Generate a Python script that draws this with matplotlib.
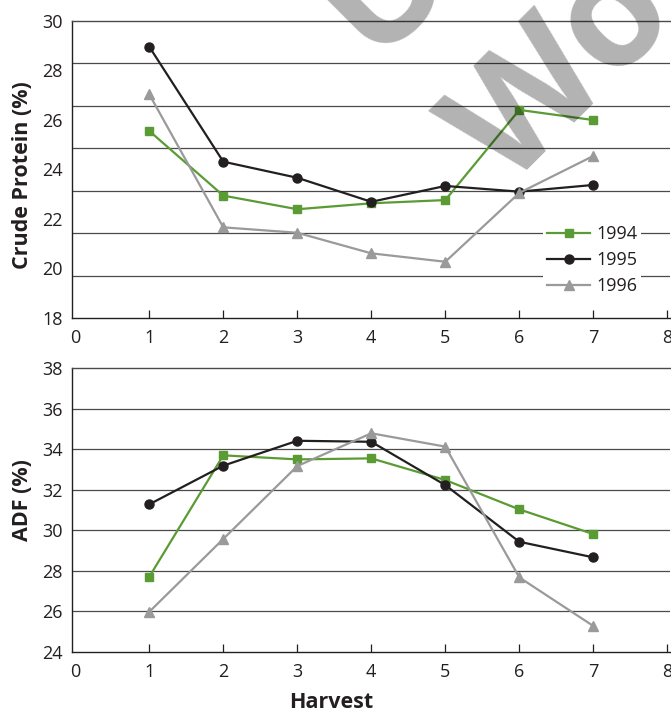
import matplotlib
matplotlib.use('Agg')
import matplotlib.pyplot as plt
import numpy as np

plt.rcParams['font.family'] = ['Open Sans', 'DejaVu Sans']

harvest = [1, 2, 3, 4, 5, 6, 7]
years = ['1994', '1995', '1996']

# Crude protein (%)
cp_1994 = [25.55, 22.94, 22.39, 22.63, 22.76, 26.40, 25.99]
cp_1995 = [28.95, 24.31, 23.66, 22.69, 23.33, 23.10, 23.37]
cp_1996 = [27.03, 21.66, 21.44, 20.61, 20.27, 23.05, 24.54]

# ADF (%)
adf_1994 = [27.70, 33.70, 33.50, 33.55, 32.48, 31.03, 29.81]
adf_1995 = [31.28, 33.19, 34.42, 34.37, 32.23, 29.43, 28.66]
adf_1996 = [25.97, 29.57, 33.17, 34.79, 34.13, 27.67, 25.27]

x_ticks = [0, 1, 2, 3, 4, 5, 6, 7, 8]
cp_ticks = [18, 20, 22, 24, 26, 28, 30]
adf_ticks = [24, 26, 28, 30, 32, 34, 36, 38]

colors = ['#5a9b34', '#231f20', '#9a9a9a']
markers = ['s', 'o', '^']
msizes = [6, 6.5, 7.5]
ink = '#231f20'
grid_c = '#4a4a4a'
fs = 13

W, H = 671, 710
fig = plt.figure(figsize=(W / 100, H / 100), dpi=100)


def px_axes(left, top, right, bottom):
    return fig.add_axes([left / W, 1 - bottom / H, (right - left) / W, (bottom - top) / H])


ax1 = px_axes(72.3, 20.7, 670, 318)
ax2 = px_axes(72.3, 368.3, 670, 651.7)


def style(ax, yticks, n_grid):
    lo, hi = yticks[0], yticks[-1]
    ax.set_ylim(lo, hi)
    ax.set_xlim(-0.04, 8.036)
    # horizontal rules (evenly spaced, as drawn in the original)
    for k in range(1, n_grid):
        ax.axhline(lo + k * (hi - lo) / n_grid, color=grid_c, lw=0.9, zorder=1)
    ax.set_yticks(yticks)
    ax.set_xticks(x_ticks[1:])
    ax.set_xticklabels([str(t) for t in x_ticks[1:]])
    ax.tick_params(axis='y', length=0, pad=7, labelsize=fs, labelcolor=ink)
    ax.tick_params(axis='x', direction='in', length=6, width=0.9, color=ink,
                   pad=8, labelsize=fs, labelcolor=ink)
    # the 0 label sits right at the spine
    ax.annotate('0', xy=(0, lo), xycoords='data', xytext=(0, -8), textcoords='offset points',
                ha='center', va='top', fontsize=fs, color=ink, annotation_clip=False)
    for s in ['left', 'bottom', 'top']:
        ax.spines[s].set_color(ink)
        ax.spines[s].set_linewidth(1.0)
    ax.spines['top'].set_color(grid_c)
    ax.spines['right'].set_visible(False)


style(ax1, cp_ticks, 7)
style(ax2, adf_ticks, 7)

for ax, series in [(ax1, [cp_1994, cp_1995, cp_1996]), (ax2, [adf_1994, adf_1995, adf_1996])]:
    for y, c, m, ms, lab in zip(series, colors, markers, msizes, years):
        ax.plot(harvest, y, color=c, marker=m, markersize=ms, lw=1.6, label=lab,
                zorder=3, clip_on=False)

ax1.set_ylabel('Crude Protein (%)', fontsize=15.5, fontweight='bold', color=ink)
ax1.yaxis.set_label_coords(-0.066, 0.479)
ax2.set_ylabel('ADF (%)', fontsize=15.5, fontweight='bold', color=ink)
ax2.yaxis.set_label_coords(-0.066, 0.535)
ax2.set_xlabel('Harvest', fontsize=15.5, fontweight='bold', color=ink)
ax2.xaxis.set_label_coords(0.433, -0.141)

leg = ax1.legend(loc='center', bbox_to_anchor=(0.870, 0.195), frameon=True,
                 facecolor='white', edgecolor='none', framealpha=1, fancybox=False,
                 fontsize=fs, handlelength=2.4, handletextpad=0.35, labelspacing=0.45,
                 borderpad=0.2, borderaxespad=0)
leg.set_zorder(5)
for t in leg.get_texts():
    t.set_color(ink)

# watermark
fig.text(372 / W, 1 - 58 / H, 'U', rotation=45, rotation_mode='anchor', ha='left',
         va='baseline', fontsize=112, fontweight='bold', color='black', alpha=0.3, zorder=10)
fig.text(508 / W, 1 - 190 / H, 'Wo', rotation=45, rotation_mode='anchor', ha='left',
         va='baseline', fontsize=112, fontweight='bold', color='black', alpha=0.3, zorder=10)

fig.savefig('out.png', dpi=100)
